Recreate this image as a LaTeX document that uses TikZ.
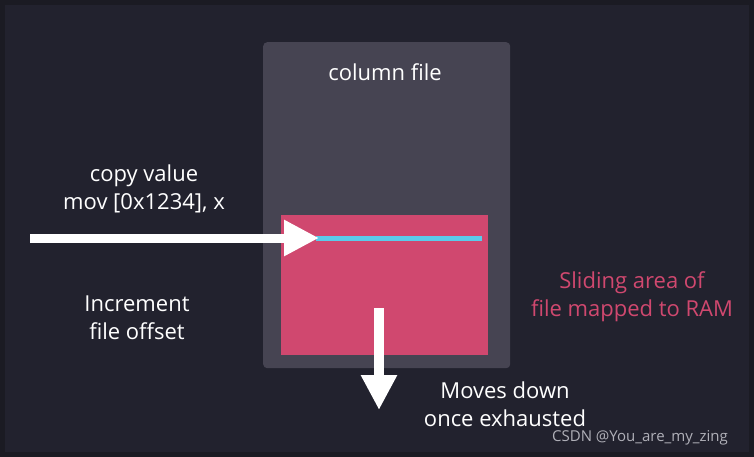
\documentclass[tikz,border=0pt]{standalone}
\usepackage{fontspec}
\setmainfont{Open Sans}
\usetikzlibrary{arrows.meta}
\definecolor{bgouter}{HTML}{1B1B23}
\definecolor{bginner}{HTML}{22222E}
\definecolor{colbox}{HTML}{464452}
\definecolor{pinkbox}{HTML}{D0486F}
\definecolor{cyanline}{HTML}{5BCBEA}
\definecolor{wmark}{HTML}{B0B0B8}
\tikzset{
  lbl/.style={text=white, font=\fontsize{22}{28}\selectfont, align=center, inner sep=0pt},
  pinklbl/.style={text=pinkbox, font=\fontsize{22}{28}\selectfont, align=center, inner sep=0pt},
  bigarrow/.style={draw=white, line width=9pt, -{Triangle[length=35pt,width=34pt]}},
}
\begin{document}
\begin{tikzpicture}[x=1pt,y=-1pt]
\useasboundingbox (0,0) rectangle (754,457);
\fill[bgouter] (0,0) rectangle (754,457);
\fill[bginner] (5,5) rectangle (749,452);
\node[fill=colbox, rounded corners=4pt, minimum width=247pt, minimum height=326pt, inner sep=0pt, anchor=north west] (col) at (263,42) {};
\node[fill=pinkbox, minimum width=207pt, minimum height=140pt, inner sep=0pt, anchor=north west] (ram) at (281,215) {};
\coordinate (cl) at (316,238.5);
\coordinate (cr) at (482,238.5);
\draw[cyanline, line width=5.5pt] (cl) -- (cr);
\node[lbl] (title) at (385,72) {column file};
\coordinate (hstart) at (30,238);
\coordinate (hend) at (319,238);
\draw[bigarrow] (hstart) -- (hend);
\coordinate (vstart) at (379,308);
\coordinate (vend) at (379,410);
\draw[bigarrow, line width=10pt] (vstart) -- (vend);
\node[lbl] (copy) at (144,189) {copy value\\mov [0x1234], x};
\node[lbl] (incr) at (137,318) {Increment\\file offset};
\node[pinklbl] (slide) at (632,297) {Sliding area of\\file mapped to RAM};
\node[lbl] (moves) at (505,404) {Moves down\\once exhausted};
\node[text=wmark, font=\fontsize{15}{16}\selectfont, inner sep=0pt] (wm) at (640,438) {CSDN @You\_are\_my\_zing};
\end{tikzpicture}
\end{document}
